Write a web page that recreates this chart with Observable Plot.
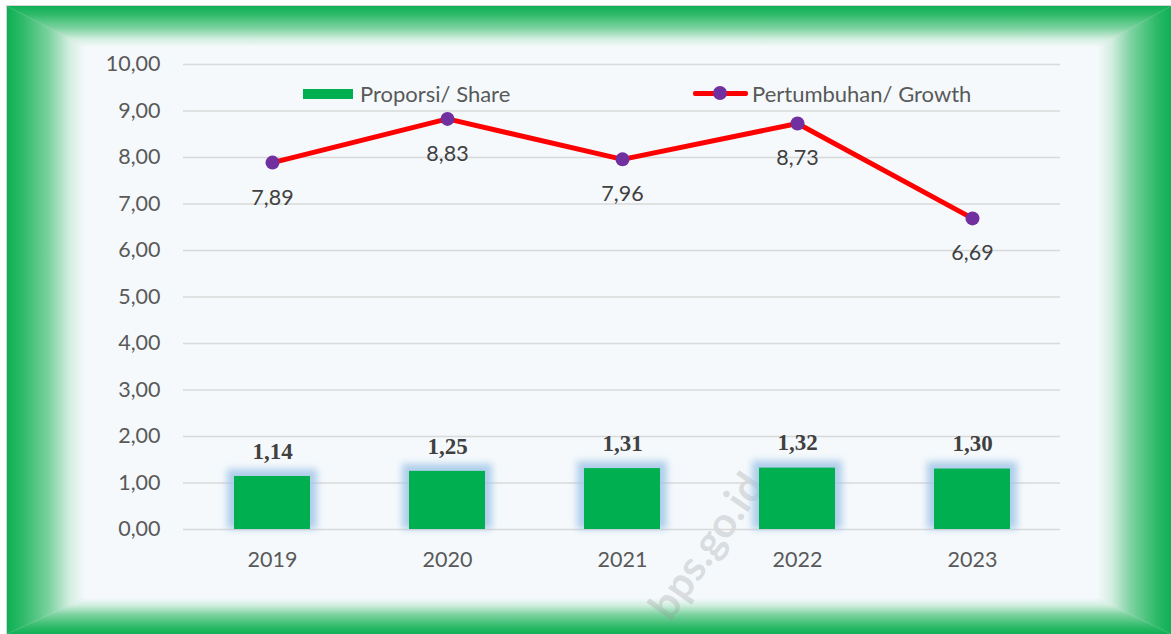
<!DOCTYPE html>
<html>
<head>
<meta charset="utf-8">
<script src="https://cdn.jsdelivr.net/npm/d3@7"></script>
<script src="https://cdn.jsdelivr.net/npm/@observablehq/plot@0.6"></script>
<style>
  html, body { margin: 0; padding: 0; background: #ffffff; }
  #wrap { position: relative; width: 1171px; height: 634px; overflow: hidden; font-family: Lato, "Open Sans", sans-serif; }
  .edge { position: absolute; left: 0; top: 0; width: 1171px; height: 634px; }
  #inner { position: absolute; left: 85px; top: 47px; width: 1012px; height: 551px; background: #F5F9FC; }
  #chart { position: absolute; left: 0; top: 0; }
  .glow { filter: blur(3.5px); }
  #legend { position: absolute; left: 0; top: 0; width: 1171px; height: 634px; pointer-events: none; }
  .lg-text { position: absolute; font-size: 22px; color: #595959; line-height: 26px; top: 81px; white-space: nowrap; }
  #wm { position: absolute; left: 622px; top: 520px; font: bold 42px Lato, sans-serif; color: rgba(150,150,150,0.30); transform: rotate(-55deg); transform-origin: center; white-space: nowrap; }
</style>
</head>
<body>
<div id="wrap">
  <div class="edge" style="background:#ffffff"></div>
  <div class="edge" style="left:6px;top:5px;width:1165px;height:629px;background:#d4d4d4"></div>
  <!-- frame: top -->
  <div class="edge" style="left:7px;top:6px;width:1164px;height:628px;background:linear-gradient(to bottom,#0DB055 0%,#2EBA68 20%,#7FD3A2 55%,#D2EEDF 80%,#F5F9FC 100%) top/100% 41px no-repeat;clip-path:polygon(0 0,100% 0,1090px 41px,78px 41px)"></div>
  <!-- frame: bottom -->
  <div class="edge" style="left:7px;top:6px;width:1164px;height:628px;background:linear-gradient(to top,#0DB055 0%,#2EBA68 20%,#7FD3A2 55%,#D2EEDF 80%,#F5F9FC 100%) bottom/100% 36px no-repeat;clip-path:polygon(0 100%,100% 100%,1090px 592px,78px 592px)"></div>
  <!-- frame: left -->
  <div class="edge" style="left:7px;top:6px;width:1164px;height:628px;background:linear-gradient(to right,#0DB055 0%,#2EBA68 20%,#7FD3A2 55%,#D2EEDF 80%,#F5F9FC 100%) left/78px 100% no-repeat;clip-path:polygon(0 0,78px 41px,78px 592px,0 100%)"></div>
  <!-- frame: right -->
  <div class="edge" style="left:7px;top:6px;width:1164px;height:628px;background:linear-gradient(to left,#0DB055 0%,#2EBA68 20%,#7FD3A2 55%,#D2EEDF 80%,#F5F9FC 100%) right/74px 100% no-repeat;clip-path:polygon(100% 0,1090px 41px,1090px 592px,100% 100%)"></div>
  <div id="inner"></div>
  <div id="wm">bps.go.id</div>
  <div id="chart"></div>
  <div id="legend">
    <div style="position:absolute;left:303px;top:89px;width:50px;height:10px;background:#00B050"></div>
    <div class="lg-text" style="left:360px">Proporsi/ Share</div>
    <div style="position:absolute;left:693px;top:91px;width:55px;height:5px;background:#FF0000;border-radius:2px"></div>
    <div style="position:absolute;left:713px;top:86px;width:14px;height:14px;background:#7030A0;border-radius:50%"></div>
    <div class="lg-text" style="left:752px">Pertumbuhan/ Growth</div>
  </div>
</div>
<script>
const years = ["2019", "2020", "2021", "2022", "2023"];
const share = [1.14, 1.25, 1.31, 1.32, 1.30];
const growth = [7.89, 8.83, 7.96, 8.73, 6.69];
const yTicks = [0, 1, 2, 3, 4, 5, 6, 7, 8, 9, 10];

const fmt = v => v.toFixed(2).replace(".", ",");
const data = years.map((y, i) => ({year: y, share: share[i], growth: growth[i]}));

const chart = Plot.plot({
  width: 1171,
  height: 634,
  marginLeft: 183,
  marginRight: 111,
  marginTop: 64,
  marginBottom: 105,
  style: {background: "transparent", fontFamily: "Lato, 'Open Sans', sans-serif", overflow: "visible"},
  x: {domain: years, type: "band", paddingInner: 0.567, paddingOuter: 0.2835, label: null},
  y: {domain: [0, 10], label: null},
  marks: [
    Plot.ruleY(yTicks, {stroke: "#D9D9D9", strokeWidth: 1.6}),
    Plot.axisY({ticks: yTicks, tickFormat: fmt, tickSize: 0, tickPadding: 23, fontSize: 21.5, fill: "#595959", label: null}),
    Plot.axisX({tickSize: 0, tickPadding: 22, fontSize: 21.5, fill: "#595959", label: null}),
    Plot.barY(data, {x: "year", y: "share", fill: "#9DC3E6", fillOpacity: 0.8, insetLeft: -7, insetRight: -7, insetTop: -7, className: "glow"}),
    Plot.barY(data, {x: "year", y: "share", fill: "#00B050"}),
    Plot.text(data, {x: "year", y: "share", text: d => fmt(d.share), dy: -25, fontSize: 23, fontWeight: "bold", fontFamily: "'Liberation Serif', 'DejaVu Serif', serif", fill: "#404040"}),
    Plot.lineY(data, {x: "year", y: "growth", stroke: "#FF0000", strokeWidth: 5}),
    Plot.dot(data, {x: "year", y: "growth", r: 7, fill: "#7030A0", stroke: "none"}),
    Plot.text(data, {x: "year", y: "growth", text: d => fmt(d.growth), dy: 35, fontSize: 21.5, fill: "#404040"})
  ]
});
document.getElementById("chart").appendChild(chart);
</script>
</body>
</html>
